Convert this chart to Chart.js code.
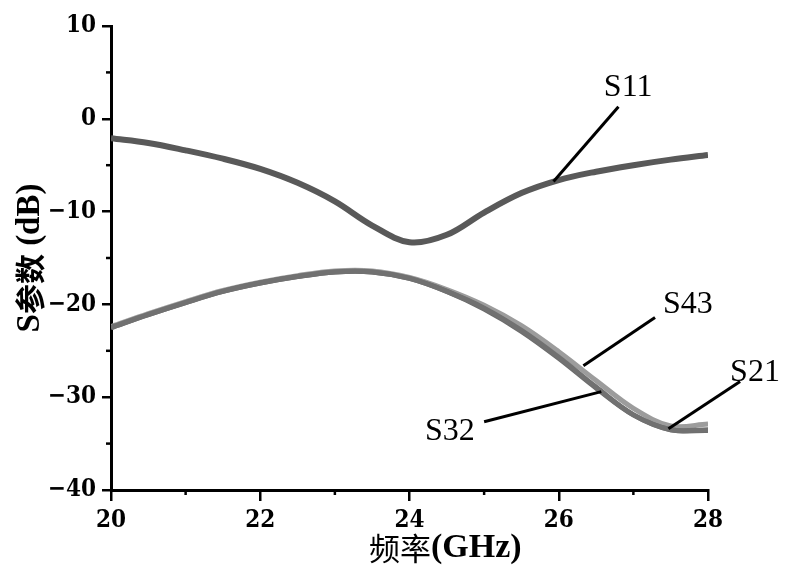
<!DOCTYPE html>
<html>
<head>
<meta charset="utf-8">
<script src="https://cdn.jsdelivr.net/npm/chart.js@4.4.1/dist/chart.umd.min.js"></script>
<style>
html,body{margin:0;padding:0;background:#fff;}
#wrap{width:806px;height:578px;}
</style>
</head>
<body>
<div id="wrap"><canvas id="c" width="806" height="578"></canvas></div>
<script>
const freqGHz = [20,20.5,21,21.5,22,22.5,23,23.5,24,24.5,25,25.5,26,26.5,27,27.5,28];
const s11 = [-2.1,-2.6,-3.4,-4.3,-5.4,-6.9,-8.9,-11.5,-13.3,-12.5,-10.1,-8.0,-6.6,-5.7,-5.0,-4.4,-3.9];
const s21 = [-22.5,-21.1,-19.8,-18.6,-17.7,-17.0,-16.5,-16.5,-17.2,-18.6,-20.4,-22.8,-25.7,-28.9,-31.9,-33.5,-33.5];
const s32 = [-22.5,-21.1,-19.8,-18.6,-17.7,-17.0,-16.5,-16.5,-17.2,-18.6,-20.5,-22.9,-25.8,-29.0,-31.9,-33.5,-33.6];
const s43 = [-22.4,-21.0,-19.7,-18.5,-17.6,-16.9,-16.4,-16.4,-17.1,-18.4,-20.1,-22.3,-25.1,-28.2,-31.2,-33.1,-32.9];
const xTicks = [20,22,24,26,28];
const xMinorTicks = [21,23,25,27];
const yTicks = [10,0,-10,-20,-30,-40];
const yMinorTicks = [5,-5,-15,-25,-35];
const xTitleParts = [["频率","cjk"],["(GHz)","latin"]];
const yTitleParts = [["S","latin"],["参数","cjkb"],[" (dB)","latin"]];
// labels: [text, textX, textY, lineFromX, lineFromY, lineToX, lineToY] in data units
const curveLabels = [
  ["S11", 26.93, 3.4, 26.80, 1.3, 25.93, -6.75],
  ["S43", 27.73, -20.0, 27.29, -21.4, 26.33, -26.6],
  ["S32", 24.54, -33.7, 25.0, -32.65, 26.57, -29.4],
  ["S21", 28.63, -27.4, 28.43, -28.3, 27.47, -33.4]
];

const LATIN = '"Liberation Serif", "DejaVu Serif", serif';
const TICKF = '"DejaVu Serif Condensed", "DejaVu Serif", serif';
const CJK = '"Noto Sans CJK SC", sans-serif';

function pts(ys){ return freqGHz.map((x,i)=>({x:x,y:ys[i]})); }

function drawParts(ctx, parts, size){
  const fonts = parts.map(p => p[1]==='latin' ? ('bold '+size+'px '+LATIN) : (p[1]==='cjkb' ? ('bold '+(size-3)+'px '+CJK) : ('400 '+(size-3)+'px '+CJK)));
  let total = 0; const widths = [];
  parts.forEach((p,i)=>{ ctx.font = fonts[i]; const w = ctx.measureText(p[0]).width; widths.push(w); total += w; });
  let x = -total/2;
  parts.forEach((p,i)=>{ ctx.font = fonts[i]; ctx.fillText(p[0], x, 0); x += widths[i]; });
}

const extras = {
  id: 'extras',
  afterDraw(chart){
    const ctx = chart.ctx;
    const xs = chart.scales.x, ys = chart.scales.y;
    const ca = chart.chartArea;
    ctx.save();
    ctx.strokeStyle = '#000'; ctx.lineWidth = 2.5;
    xMinorTicks.forEach(v=>{ const px = xs.getPixelForValue(v); ctx.beginPath(); ctx.moveTo(px, ca.bottom); ctx.lineTo(px, ca.bottom+5); ctx.stroke(); });
    yMinorTicks.forEach(v=>{ const py = ys.getPixelForValue(v); ctx.beginPath(); ctx.moveTo(ca.left, py); ctx.lineTo(ca.left-5, py); ctx.stroke(); });
    ctx.lineWidth = 3;
    ctx.fillStyle = '#000';
    ctx.textAlign = 'center'; ctx.textBaseline = 'middle';
    ctx.font = '32px ' + LATIN;
    curveLabels.forEach(l=>{
      ctx.beginPath();
      ctx.moveTo(xs.getPixelForValue(l[3]), ys.getPixelForValue(l[4]));
      ctx.lineTo(xs.getPixelForValue(l[5]), ys.getPixelForValue(l[6]));
      ctx.stroke();
      ctx.fillText(l[0], xs.getPixelForValue(l[1]), ys.getPixelForValue(l[2]));
    });
    ctx.textAlign = 'left'; ctx.textBaseline = 'middle';
    ctx.save();
    ctx.translate(xs.getPixelForValue(24.48), ca.bottom + 58);
    drawParts(ctx, xTitleParts, 34);
    ctx.restore();
    ctx.save();
    ctx.translate(30, (ca.top+ca.bottom)/2);
    ctx.rotate(-Math.PI/2);
    drawParts(ctx, yTitleParts, 33);
    ctx.restore();
    ctx.restore();
  }
};

new Chart(document.getElementById('c'), {
  type: 'line',
  data: {
    datasets: [
      {label:'S11', data: pts(s11), borderColor:'#595959', borderWidth:6},
      {label:'S21', data: pts(s21), borderColor:'#717171', borderWidth:5},
      {label:'S32', data: pts(s32), borderColor:'#6c6c6c', borderWidth:5},
      {label:'S43', data: pts(s43), borderColor:'#9c9c9c', borderWidth:5}
    ]
  },
  options: {
    responsive: false,
    animation: false,
    devicePixelRatio: 1,
    elements: { point: { radius: 0 }, line: { tension: 0.35, fill: false, borderCapStyle: 'butt' } },
    layout: { padding: { left: 0, right: 98, top: 26, bottom: 0 } },
    plugins: { legend: { display: false }, tooltip: { enabled: false } },
    scales: {
      x: {
        type: 'linear', min: 20, max: 28,
        afterBuildTicks(s){ s.ticks = xTicks.map(v=>({value:v})); },
        afterFit(s){ s.height = 88; },
        border: { display: true, color: '#000', width: 3 },
        grid: { display: true, drawOnChartArea: false, drawTicks: true, tickLength: 11, color: '#000', lineWidth: 2.5 },
        ticks: { color: '#000', padding: 5, maxRotation: 0, font: { family: TICKF, size: 24, weight: 'bold' }, callback: v => String(v) }
      },
      y: {
        type: 'linear', min: -40, max: 10,
        afterBuildTicks(s){ s.ticks = yTicks.map(v=>({value:v})); },
        afterFit(s){ s.width = 111; },
        border: { display: true, color: '#000', width: 3 },
        grid: { display: true, drawOnChartArea: false, drawTicks: true, tickLength: 9, color: '#000', lineWidth: 2.5 },
        ticks: { color: '#000', padding: 6, font: { family: TICKF, size: 24, weight: 'bold' }, callback: v => (v < 0 ? '\u2212' + Math.abs(v) : String(v)) }
      }
    }
  },
  plugins: [extras]
});
</script>
</body>
</html>
